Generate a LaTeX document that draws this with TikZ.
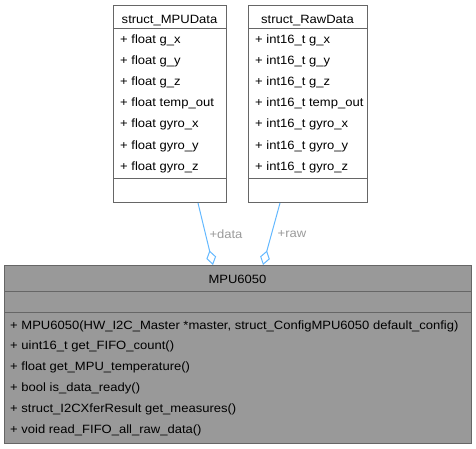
\documentclass[tikz,border=0pt]{standalone}
\usepackage{fontspec}
\setmainfont{Liberation Sans}[FakeStretch=1.085]
\usetikzlibrary{arrows.meta}
\definecolor{edgeblue}{HTML}{63B8FF}
\definecolor{boxline}{HTML}{666666}
\definecolor{boxfill}{HTML}{999999}
\definecolor{labelgray}{HTML}{9A9A9A}
\begin{document}
\begin{tikzpicture}[x=1pt,y=-1pt,
  classbox/.style={draw=boxline, line width=1pt, anchor=north west, inner sep=0pt},
  sepline/.style={draw=boxline, line width=1pt},
  txt/.style={anchor=base west, inner sep=0pt, font=\fontsize{12}{14}\selectfont},
  ttl/.style={anchor=base, inner sep=0pt, font=\fontsize{12}{14}\selectfont},
  assoc/.style={draw=edgeblue, line width=1pt, -{Diamond[open, length=15pt, width=10pt]}},
  elabel/.style={inner sep=0pt, text=labelgray, font=\fontsize{12}{14}\selectfont}]
\useasboundingbox (0,0) rectangle (476,448);
% struct_MPUData
\node[classbox, fill=white, minimum width=113pt, minimum height=197pt] (mpudata) at (113,5) {};
\draw[sepline] (113,28) -- (226,28);
\draw[sepline] (113,178) -- (226,178);
\node[ttl] (mpudatat) at (169.5,23.5) {struct\_MPUData};
\foreach \t [count=\i from 0] in {g\_x,g\_y,g\_z,temp\_out,gyro\_x,gyro\_y,gyro\_z}
  \node[txt] (mpudata\i) at (120,43.5+21.1*\i) {+ float \t};
% struct_RawData
\node[classbox, fill=white, minimum width=119pt, minimum height=197pt] (rawdata) at (248,5) {};
\draw[sepline] (248,28) -- (367,28);
\draw[sepline] (248,178) -- (367,178);
\node[ttl] (rawdatat) at (307.5,23.5) {struct\_RawData};
\foreach \t [count=\i from 0] in {g\_x,g\_y,g\_z,temp\_out,gyro\_x,gyro\_y,gyro\_z}
  \node[txt] (rawdata\i) at (255,43.5+21.1*\i) {+ int16\_t \t};
% MPU6050
\node[classbox, fill=boxfill, minimum width=467pt, minimum height=178pt] (mpu) at (4,265) {};
\draw[sepline] (4,291) -- (471,291);
\draw[sepline] (4,312) -- (471,312);
\node[ttl] (mput) at (237.5,283.5) {MPU6050};
\node[txt] (m0) at (10,329) {+ MPU6050(HW\_I2C\_Master *master, struct\_ConfigMPU6050 default\_config)};
\node[txt] (m1) at (10,349.8) {+ uint16\_t get\_FIFO\_count()};
\node[txt] (m2) at (10,370.6) {+ float get\_MPU\_temperature()};
\node[txt] (m3) at (10,391.4) {+ bool is\_data\_ready()};
\node[txt] (m4) at (10,412.2) {+ struct\_I2CXferResult get\_measures()};
\node[txt] (m5) at (10,433) {+ void read\_FIFO\_all\_raw\_data()};
% associations
\draw[assoc] ([xshift=-29pt]mpudata.south east) -- ([xshift=209pt]mpu.north west);
\draw[assoc] ([xshift=32pt]rawdata.south west) -- ([xshift=259pt]mpu.north west);
\node[elabel] (ldata) at (226,234) {+data};
\node[elabel] (lraw) at (292,234) {+raw};
\end{tikzpicture}
\end{document}
